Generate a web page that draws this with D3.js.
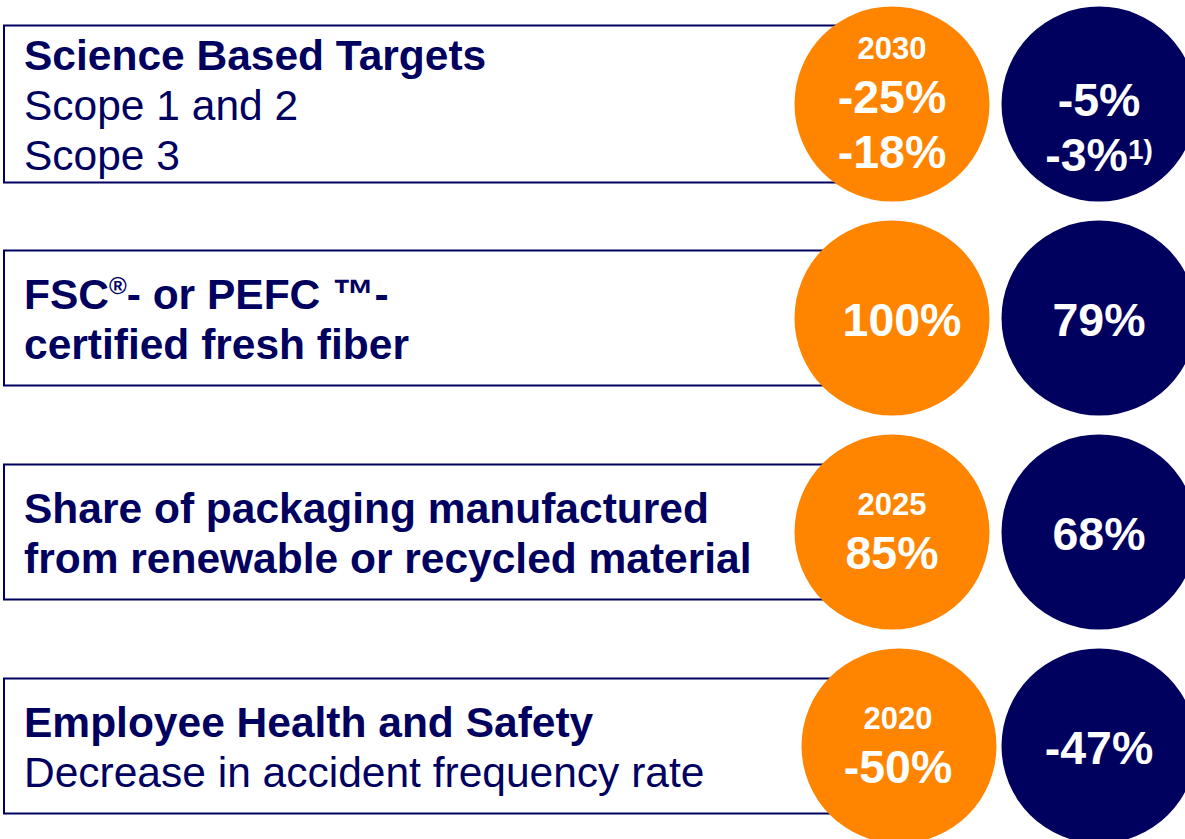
<!DOCTYPE html>
<html>
<head>
<meta charset="utf-8">
<script src="https://cdn.jsdelivr.net/npm/d3@7"></script>
<style>
  body { margin: 0; background: #fff; }
  svg { display: block; }
</style>
</head>
<body>
<div id="chart"></div>
<script>
// one entry per row
const categories = ["sbt", "fsc", "packaging", "safety"];
const headings = [
    ["Science Based Targets"],
    ["FSC®- or PEFC ™-", "certified fresh fiber"],
    ["Share of packaging manufactured", "from renewable or recycled material"],
    ["Employee Health and Safety"]
];
const subLines = [
    ["Scope 1 and 2", "Scope 3"],
    [],
    [],
    ["Decrease in accident frequency rate"]
];
const targetYears = ["2030", null, "2025", "2020"];
const targetValues = [["-25%", "-18%"], ["100%"], ["85%"], ["-50%"]];
const actualValues = [["-5%", "-3%"], ["79%"], ["68%"], ["-47%"]];
const actualNotes = [[null, "1)"], [null], [null], [null]];

const W = 1185, H = 839;
const navy = "#00005f", orange = "#ff8500";
const font = "'Liberation Sans', Arial, sans-serif";

const rows = categories.map(function(c, i) {
    return {
        key: c,
        head: headings[i],
        sub: subLines[i],
        year: targetYears[i],
        target: targetValues[i],
        actual: actualValues[i],
        notes: actualNotes[i],
        // small hand nudges seen in the original layout
        circleDx: i === 3 ? 7 : 0,
        textDx: i === 1 ? 10 : (i === 3 ? 6 : 0)
    };
});

const svg = d3.select("#chart").append("svg")
    .attr("width", W)
    .attr("height", H)
    .style("font-family", font);

// vertical position of each row (center line)
const y = d3.scalePoint().domain(categories).range([104, 746]);
const r = 97.5;
const xTarget = 892, xActual = 1099;

const row = svg.selectAll("g.row")
    .data(rows)
    .enter()
    .append("g")
    .attr("class", "row")
    .attr("transform", function(d) { return "translate(0," + y(d.key) + ")"; });

// boxes
function lineCount(d) { return d.head.length + d.sub.length; }
function boxH(d) { return lineCount(d) === 3 ? 157 : 135; }

row.append("rect")
    .attr("x", 4)
    .attr("y", function(d) { return -boxH(d) / 2; })
    .attr("width", 886)
    .attr("height", boxH)
    .attr("fill", "#fff")
    .attr("stroke", navy)
    .attr("stroke-width", 2);

// box text
row.each(function(d) {
    let g = d3.select(this);
    let lines = d.head.map(function(t) { return { t: t, bold: true }; })
        .concat(d.sub.map(function(t) { return { t: t, bold: false }; }));
    let n = lines.length;
    lines.forEach(function(l, j) {
        let text = g.append("text")
            .attr("x", 24)
            .attr("y", 16 + (j - (n - 1) / 2) * 50)
            .attr("font-size", 42.5)
            .attr("font-weight", l.bold ? "bold" : "normal")
            .attr("fill", navy);
        let parts = l.t.split("®");
        parts.forEach(function(p, k) {
            if (k > 0) {
                text.append("tspan").text("®").attr("font-size", 24).attr("dy", -15);
                text.append("tspan").text(p).attr("dy", 15);
            } else {
                text.append("tspan").text(p);
            }
        });
    });
});

// target circles (orange)
row.append("circle")
    .attr("cx", function(d) { return xTarget + d.circleDx; })
    .attr("cy", 0)
    .attr("r", r)
    .attr("fill", orange);

// actual circles (navy)
row.append("circle")
    .attr("cx", xActual)
    .attr("cy", 0)
    .attr("r", r)
    .attr("fill", navy);

function valueBase(n, j, shift) {
    return 17.5 + (j - (n - 1) / 2) * 55 + shift;
}

row.each(function(d) {
    let g = d3.select(this);
    let cx = xTarget + d.textDx;
    let shift = d.year ? 19 : 0;
    let n = d.target.length;
    if (d.year) {
        g.append("text")
            .attr("x", cx)
            .attr("y", valueBase(n, 0, shift) - 54)
            .attr("text-anchor", "middle")
            .attr("font-size", 31)
            .attr("font-weight", "bold")
            .attr("fill", "#fff")
            .text(d.year);
    }
    d.target.forEach(function(v, j) {
        g.append("text")
            .attr("x", cx)
            .attr("y", valueBase(n, j, shift))
            .attr("text-anchor", "middle")
            .attr("font-size", 46.5)
            .attr("font-weight", "bold")
            .attr("fill", "#fff")
            .text(v);
    });

    let m = d.actual.length;
    let ashift = m > 1 ? 21.5 : 0;
    d.actual.forEach(function(v, j) {
        let t = g.append("text")
            .attr("x", xActual)
            .attr("y", valueBase(m, j, ashift))
            .attr("text-anchor", "middle")
            .attr("font-size", 46.5)
            .attr("font-weight", "bold")
            .attr("fill", "#fff");
        t.append("tspan").text(v);
        if (d.notes[j]) {
            t.append("tspan")
                .attr("font-size", 28)
                .attr("dy", -12)
                .text(d.notes[j]);
        }
    });
});
</script>
</body>
</html>
